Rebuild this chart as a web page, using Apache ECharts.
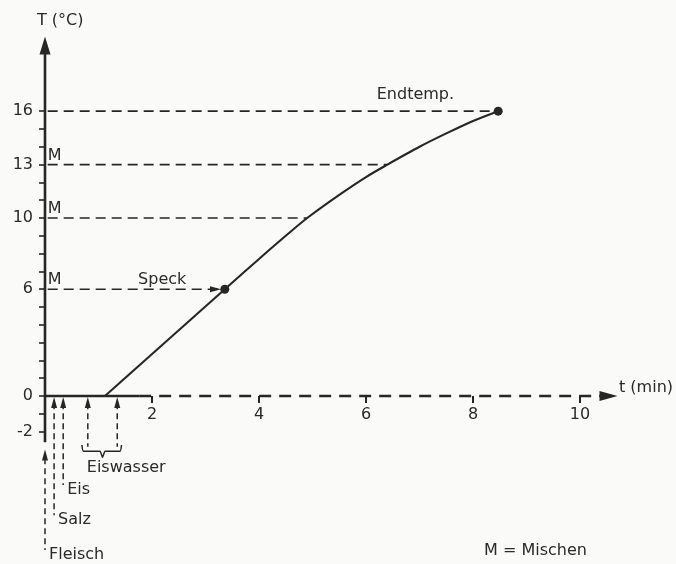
<!DOCTYPE html>
<html><head><meta charset="utf-8">
<script src="https://cdn.jsdelivr.net/npm/echarts@6/dist/echarts.min.js"></script>
<style>html,body{margin:0;padding:0;background:#fafaf8}#c{width:676px;height:564px}</style>
</head><body><div id="c"></div>
<script>
// ---- data ----
const tempTickLabels = [16, 13, 10, 6, 0, -2];
const tempMinorTicks = [-2, -1, 0, 1, 2, 3, 4, 5, 6, 7, 8, 9, 10, 11, 12, 13, 14, 15, 16];
const timeTicks = [2, 4, 6, 8, 10];
const heatingLine = [[1.12, 0], [3.36, 6]];
const heatingCurve = [[3.36, 6], [4.0, 7.7], [4.5, 9.0], [4.9, 10.0], [5.5, 11.3], [6.0, 12.3], [6.4, 13.0],
  [7.0, 14.0], [7.5, 14.75], [8.0, 15.45], [8.47, 16.0]];
const mixTemps = [13, 10, 6];
const speckPoint = [3.36, 6];
const endPoint = [8.47, 16];
const guideTemps = [16, 13, 10, 6];
const guideTimes = [8.47, 6.4, 4.9, 3.36];
const addNames = ['Fleisch', 'Salz', 'Eis'];
const addTimes = [0, 0.17, 0.34];
const eiswasserTimes = [0.8, 1.35];

// ---- layout (drawing extents in axis units) ----
const L = {
  xMin: 0, xMax: 10.7, yMin: -9.2, yMax: 20.2,
  yAxisBottom: -2.6, xSolidEnd: 1.76,
  addLineEnds: [-8.65, -6.7, -5.0], fleischTip: -3.0,
  eisEnd: -2.85, guideStart: 0.05
};
const INK = '#262626', TXT = '#2a2a2a';
const FONT = 'DejaVu Sans';

function seg(data, lw, type, z) {
  return { type: 'line', data: data, symbol: 'none', silent: true, z: z || 3, clip: false,
    lineStyle: { color: INK, width: lw, type: type || 'solid', cap: 'butt' } };
}
const series = [];
// y axis line
series.push(seg([[0, L.yAxisBottom], [0, L.yMax - 0.6]], 2.6, 'solid', 4));
// x axis: solid then dashed
series.push(seg([[0, 0], [L.xSolidEnd, 0]], 2.6, 'solid', 4));
series.push(seg([[L.xSolidEnd, 0], [L.xMax - 0.3, 0]], 2.4, [12, 8], 4));
// guide lines
guideTemps.forEach((t, i) => series.push(seg([[L.guideStart, t], [guideTimes[i], t]], 1.6, [10, 6], 2)));
// heating curve
series.push(seg(heatingLine, 2.1, 'solid', 5));
series.push(Object.assign(seg(heatingCurve, 2.1, 'solid', 5), { smooth: 0.3 }));
// addition lines (Fleisch, Salz, Eis)
series.push(seg([[addTimes[0], L.fleischTip - 0.5], [addTimes[0], L.addLineEnds[0]]], 1.5, [6, 4], 2));
series.push(seg([[addTimes[1], -0.4], [addTimes[1], L.addLineEnds[1]]], 1.5, [6, 4], 2));
series.push(seg([[addTimes[2], -0.4], [addTimes[2], L.addLineEnds[2]]], 1.5, [6, 4], 2));
eiswasserTimes.forEach(t => series.push(seg([[t, -0.4], [t, L.eisEnd]], 1.5, [6, 4], 2)));
// brace under Eiswasser
const a = eiswasserTimes[0], b = eiswasserTimes[1], m = (a + b) / 2;
series.push(Object.assign(seg([[a - 0.11, L.eisEnd + 0.1], [a - 0.08, L.eisEnd - 0.25], [m - 0.05, L.eisEnd - 0.25],
  [m, L.eisEnd - 0.6], [m + 0.05, L.eisEnd - 0.25], [b + 0.05, L.eisEnd - 0.25], [b + 0.08, L.eisEnd + 0.1]], 1.5, 'solid', 2), { smooth: 0.2 }));
// points
series.push({ type: 'scatter', data: [speckPoint, endPoint], symbol: 'circle', symbolSize: 9, itemStyle: { color: INK, opacity: 1 }, z: 6, silent: true });
// arrowheads
series.push({ type: 'scatter', silent: true, z: 6, symbol: 'triangle', itemStyle: { color: INK, opacity: 1 }, clip: false,
  data: [
    { value: [0, L.yMax], symbolSize: [11, 18], symbolOffset: [0, 9] },
    { value: [L.xMax, 0], symbolSize: [10, 18], symbolRotate: -90, symbolOffset: [-9, 0] },
    { value: [addTimes[0], L.fleischTip], symbolSize: [6, 11], symbolOffset: [0, 5.5] },
    { value: [addTimes[1], 0], symbolSize: [6, 11], symbolOffset: [0, 6.5] },
    { value: [addTimes[2], 0], symbolSize: [6, 11], symbolOffset: [0, 6.5] },
    { value: [eiswasserTimes[0], 0], symbolSize: [6, 11], symbolOffset: [0, 6.5] },
    { value: [eiswasserTimes[1], 0], symbolSize: [6, 11], symbolOffset: [0, 6.5] },
    { value: [speckPoint[0] - 0.07, speckPoint[1]], symbolSize: [6, 11], symbolRotate: -90, symbolOffset: [-5.5, 0] }
  ] });
// text annotations
const lbl = (extra) => Object.assign({ show: true, color: TXT, opacity: 1, fontFamily: FONT, fontSize: 16, position: 'right', distance: 0 }, extra);
series.push({ type: 'scatter', silent: true, symbolSize: 0, z: 7, clip: false, itemStyle: { opacity: 1 },
  data: mixTemps.map(t => ({ value: [L.guideStart, t], label: lbl({ formatter: 'M', offset: [0, -9] }) }))
    .concat([
      { value: [1.74, speckPoint[1]], label: lbl({ formatter: 'Speck', offset: [0, -9] }) },
      { value: [6.2, endPoint[1]], label: lbl({ formatter: 'Endtemp.', offset: [0, -16] }) },
      { value: [eiswasserTimes[0], L.eisEnd], label: lbl({ formatter: 'Eiswasser', offset: [-1, 21] }) }
    ])
    .concat(addNames.map((n, i) => ({ value: [addTimes[i], L.addLineEnds[i]], label: lbl({ formatter: n, offset: [4, 5] }) })))
    .concat(timeTicks.map(t => ({ value: [t, 0], label: lbl({ formatter: String(t), position: 'bottom', distance: 0, offset: [0, 11] }) })))
});

const chart = echarts.init(document.getElementById('c'), null, { renderer: 'canvas' });
chart.setOption({
  animation: false,
  backgroundColor: '#fafaf8',
  grid: { left: 45, right: 58.5, top: 36.4, bottom: 4.2, outerBoundsMode: 'none', containLabel: false },
  xAxis: {
    type: 'value', min: L.xMin, max: L.xMax,
    axisLine: { show: true, onZero: true, lineStyle: { color: 'rgba(0,0,0,0)' } },
    axisTick: { show: true, customValues: timeTicks, length: 7, lineStyle: { color: INK, width: 2 } },
    axisLabel: { show: false },
    splitLine: { show: false }
  },
  yAxis: {
    type: 'value', min: L.yMin, max: L.yMax,
    axisLine: { show: true, onZero: true, lineStyle: { color: 'rgba(0,0,0,0)' } },
    axisTick: { show: true, customValues: tempMinorTicks, length: 6, lineStyle: { color: INK, width: 1.6 } },
    axisLabel: { show: true, customValues: tempTickLabels, margin: 12, color: TXT, fontFamily: FONT, fontSize: 16 },
    splitLine: { show: false }
  },
  graphic: [
    { type: 'text', left: 37, top: 13, style: { text: 'T (°C)', font: '16px "DejaVu Sans"', fill: TXT } },
    { type: 'text', left: 619, top: 380, style: { text: 't (min)', font: '16px "DejaVu Sans"', fill: TXT } },
    { type: 'text', left: 484, top: 543, style: { text: 'M = Mischen', font: '16px "DejaVu Sans"', fill: TXT } }
  ],
  series: series
});
</script>
</body></html>
